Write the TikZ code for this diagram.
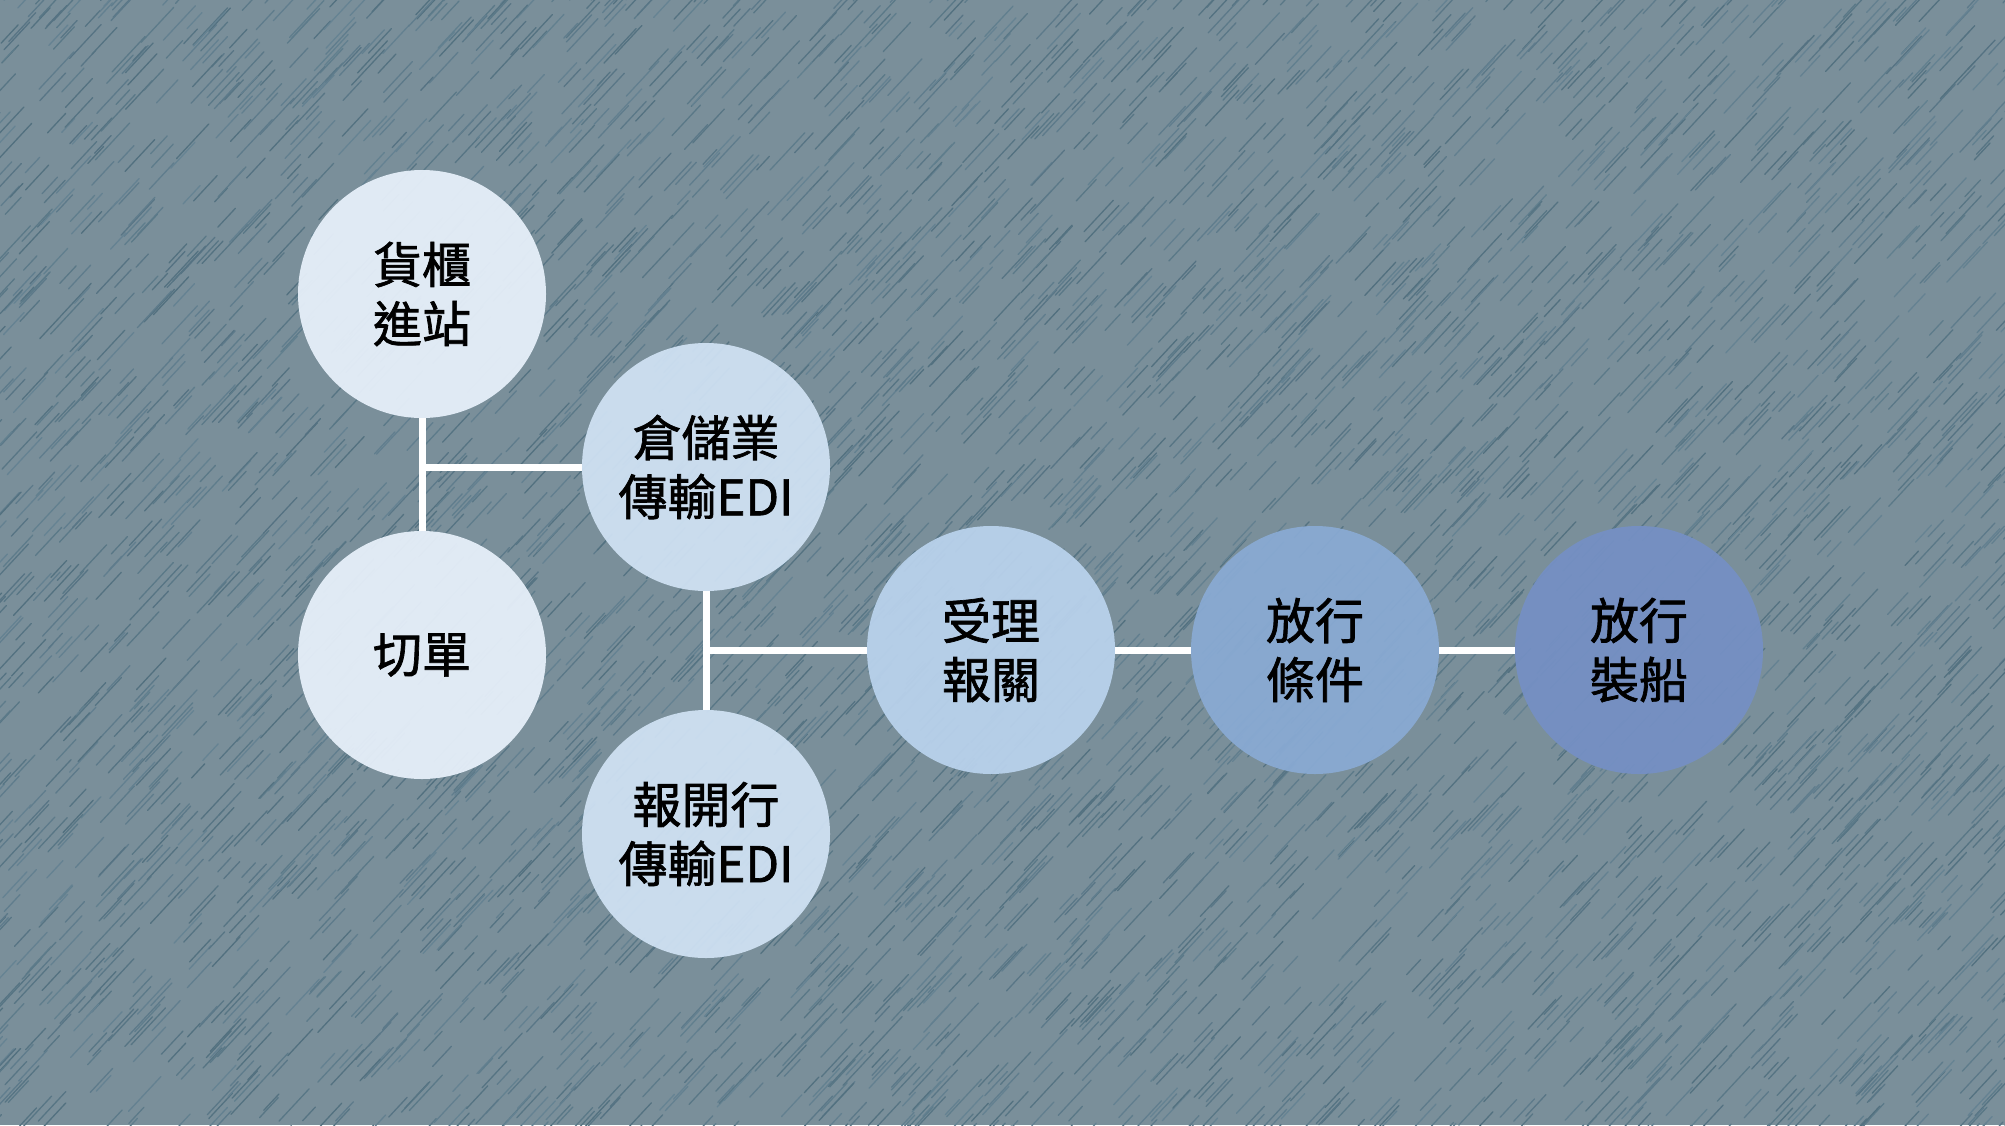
\documentclass[tikz,border=0pt]{standalone}
\usepackage{fontspec}
\setmainfont{Noto Sans CJK TC}
\newfontfamily\cjkmed{Noto Sans CJK TC}[FakeBold=1.4]
\definecolor{bg}{HTML}{7A8F9A}
\definecolor{strokeA}{HTML}{52707F}
\definecolor{strokeB}{HTML}{668393}
\definecolor{cA}{HTML}{E7F0FA}
\definecolor{cB}{HTML}{CFE1F3}
\definecolor{cC}{HTML}{B9D2EC}
\definecolor{cD}{HTML}{89AAD3}
\definecolor{cE}{HTML}{7590C4}
\tikzset{
  bubble/.style={circle, minimum size=248pt, inner sep=0pt, fill opacity=0.94, text opacity=1,
    align=center, text=black, font=\fontsize{49}{59}\selectfont\cjkmed},
  link/.style={draw=white, line width=7pt}
}
\begin{document}
\begin{tikzpicture}[x=1pt,y=-1pt]
\useasboundingbox (0,0) rectangle (2005,1125);
\fill[bg] (0,0) rectangle (2005,1125);
\begin{scope}
\clip (0,0) rectangle (2005,1125);
\pgfmathsetseed{4242}
\foreach \i in {1,...,5200}{
  \pgfmathsetmacro\px{rnd*2080-40}
  \pgfmathsetmacro\py{rnd*1200-30}
  \pgfmathsetmacro\len{18+rnd*34}
  \pgfmathtruncatemacro\pct{rnd*100}
  \pgfmathsetmacro\dx{0.68*\len}
  \pgfmathsetmacro\dy{-0.73*\len}
  \draw[line width=1.3pt, line cap=round, draw=strokeA!\pct!strokeB] (\px,\py) -- ++(\dx,\dy);
}
\end{scope}
\node[bubble, fill=cA] (c1) at (422,294) {貨櫃\\進站};
\node[bubble, fill=cA] (c2) at (422,655) {切單};
\node[bubble, fill=cB] (c3) at (706,467) {倉儲業\\傳輸EDI};
\node[bubble, fill=cB] (c4) at (706,834) {報開行\\傳輸EDI};
\node[bubble, fill=cC] (c5) at (991,650) {受理\\報關};
\node[bubble, fill=cD] (c6) at (1315,650) {放行\\條件};
\node[bubble, fill=cE] (c7) at (1639,650) {放行\\裝船};
\draw[link] (c1.south) -- (c2.north);
\draw[link] (c3.west) -- (c1.south |- c3.west);
\draw[link] (c3.south) -- (c4.north);
\draw[link] (c5.west) -- (c3.south |- c5.west);
\draw[link] (c5.east) -- (c6.west);
\draw[link] (c6.east) -- (c7.west);
\end{tikzpicture}
\end{document}
